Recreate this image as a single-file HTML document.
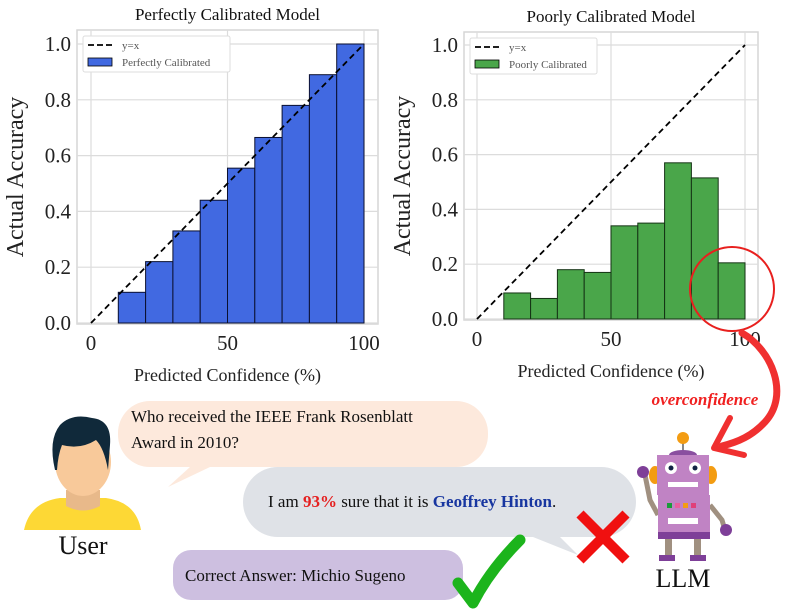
<!DOCTYPE html>
<html><head><meta charset="utf-8">
<style>
html,body{margin:0;padding:0;background:#fff;}
svg{display:block;font-family:"Liberation Serif",serif;}
svg text{font-family:"Liberation Serif",serif;}
</style></head>
<body>
<svg id="fig" width="800" height="611" viewBox="0 0 800 611" xmlns="http://www.w3.org/2000/svg" font-family="Liberation Serif, serif">
<g id="left"></g>
<g id="right"></g>

<circle cx="732" cy="289" r="42" fill="none" stroke="#e8201e" stroke-width="2"/>
<path d="M742,333 C772,350 790,395 765,422 C752,436 738,442 722,446" fill="none" stroke="#f03030" stroke-width="7" stroke-linecap="round"/>
<path d="M714,448 L730,418 M714,448 L744,455" fill="none" stroke="#f03030" stroke-width="6" stroke-linecap="round"/>
<text x="705" y="405" text-anchor="middle" font-size="17" font-style="italic" font-weight="bold" fill="#f02020">overconfidence</text>

<g>
<path d="M24,530 Q30,502 60,498 L106,498 Q136,502 141,530 Z" fill="#fdd835"/>
<path d="M66,490 L66,506 Q83,515 100,506 L100,490 Z" fill="#e8b98a"/>
<ellipse cx="83" cy="462" rx="28" ry="34" fill="#f8c99a"/>
<path d="M55,470 Q48,440 60,425 Q72,413 92,418 Q112,420 110,445 L108,470 Q104,448 96,440 Q80,450 62,445 Q58,455 57,470 Z" fill="#10293a"/>
</g>
<text x="83" y="554" text-anchor="middle" font-size="26" fill="#111">User</text>

<g>
<path d="M168,487 L190,467 L210,467 Z" fill="#fde9dc"/>
<rect x="118" y="401" width="370" height="66" rx="32" fill="#fde9dc"/>
<text x="131" y="422" font-size="17" fill="#111">Who received the IEEE Frank Rosenblatt</text>
<text x="131" y="448" font-size="17" fill="#111">Award in 2010?</text>
</g>
<g>
<path d="M578,555 L533,537 L560,537 Z" fill="#dfe2e7"/>
<rect x="243" y="467" width="393" height="70" rx="35" fill="#dfe2e7"/>
<text x="268" y="507" font-size="17" fill="#111">I am <tspan fill="#e52020" font-weight="bold">93%</tspan> sure that it is <tspan fill="#1836a0" font-weight="bold">Geoffrey Hinton</tspan>.</text>
</g>
<g>
<rect x="173" y="550" width="290" height="50" rx="18" fill="#cdbfe0"/>
<text x="185" y="581" font-size="17" fill="#111">Correct Answer: Michio Sugeno</text>
</g>
<g>
<path d="M580,514 L626,560 M626,514 L580,560" stroke="#f01010" stroke-width="10"/>
</g>
<path d="M458,583 L473,603 Q490,570 520,540" fill="none" stroke="#1cb41c" stroke-width="11" stroke-linecap="round" stroke-linejoin="round"/>

<g>
<line x1="683" y1="440" x2="683" y2="452" stroke="#888" stroke-width="2"/>
<circle cx="683" cy="438" r="6" fill="#f39c12"/>
<ellipse cx="683" cy="455" rx="14" ry="5" fill="#8a4fa0"/>
<ellipse cx="655" cy="475" rx="6" ry="9" fill="#f39c12"/>
<ellipse cx="711" cy="475" rx="6" ry="9" fill="#f39c12"/>
<rect x="657" y="455" width="52" height="40" fill="#c083c4"/>
<circle cx="671" cy="468" r="6" fill="#fff"/><circle cx="671" cy="468" r="2.5" fill="#124"/>
<circle cx="695" cy="468" r="6" fill="#fff"/><circle cx="695" cy="468" r="2.5" fill="#124"/>
<rect x="668" y="482" width="30" height="5" fill="#fff"/>
<path d="M645,475 L650,500 L658,515" stroke="#a09080" stroke-width="5" fill="none"/>
<circle cx="643" cy="472" r="6" fill="#7e3f98"/>
<path d="M710,505 L722,520 L725,530" stroke="#a09080" stroke-width="5" fill="none"/>
<circle cx="726" cy="530" r="6" fill="#7e3f98"/>
<rect x="658" y="495" width="52" height="43" fill="#c083c4"/>
<rect x="658" y="532" width="52" height="7" fill="#7e3f98"/>
<rect x="667" y="503" width="5" height="5" fill="#1a9b3a"/><rect x="675" y="503" width="5" height="5" fill="#e85fa0"/><rect x="683" y="503" width="5" height="5" fill="#f39c12"/><rect x="691" y="503" width="5" height="5" fill="#e0407a"/>
<rect x="668" y="518" width="30" height="6" fill="#fff"/>
<rect x="665" y="539" width="7" height="16" fill="#a09080"/><rect x="694" y="539" width="7" height="16" fill="#a09080"/>
<rect x="659" y="555" width="16" height="6" fill="#7e3f98"/><rect x="690" y="555" width="16" height="6" fill="#7e3f98"/>
</g>
<text x="683" y="587" text-anchor="middle" font-size="26" fill="#111">LLM</text>
</svg>
<script>
const NS="http://www.w3.org/2000/svg";
const binStarts=[10,20,30,40,50,60,70,80,90];
const perfectValues=[0.11,0.22,0.33,0.44,0.555,0.665,0.78,0.89,1.0];
const poorValues=[0.095,0.075,0.18,0.17,0.34,0.35,0.57,0.515,0.205];
const xTicks=[0,50,100];
const yTicks=[0.0,0.2,0.4,0.6,0.8,1.0];
function mk(p,tag,a){const e=document.createElementNS(NS,tag);for(const k in a)e.setAttribute(k,a[k]);p.appendChild(e);return e;}
function chart(g,cfg,vals){
  const sx=v=>cfg.x0+(cfg.x1-cfg.x0)*v/100, sy=v=>cfg.y0+(cfg.y1-cfg.y0)*v;
  const fr=mk(g,'rect',{x:cfg.bl,y:cfg.bt,width:cfg.br-cfg.bl,height:cfg.bb-cfg.bt,fill:'#fff',stroke:'#d6d6d6','stroke-width':1.5});
  
  
  xTicks.forEach(t=>{mk(g,'line',{x1:sx(t),x2:sx(t),y1:cfg.bt,y2:cfg.bb,stroke:'#dcdcdc','stroke-width':1.2});
    const l=mk(g,'text',{x:sx(t),y:cfg.bb+26,'text-anchor':'middle','font-size':21,fill:'#222'});l.textContent=t;
    
    });
  yTicks.forEach(t=>{mk(g,'line',{x1:cfg.bl,x2:cfg.br,y1:sy(t),y2:sy(t),stroke:'#dcdcdc','stroke-width':1.2});
    const l=mk(g,'text',{x:cfg.bl-6,y:sy(t)+7,'text-anchor':'end','font-size':21,fill:'#222'});l.textContent=t.toFixed(1);
    
    });
  vals.forEach((v,i)=>{const b=binStarts[i];
    const r=mk(g,'rect',{x:sx(b),y:sy(v),width:sx(b+10)-sx(b),height:sy(0)-sy(v),fill:cfg.color,stroke:cfg.edge,'stroke-width':1});
    
    });
  const d=mk(g,'line',{x1:sx(0),y1:sy(0),x2:sx(100),y2:sy(1),stroke:'#000','stroke-width':1.8,'stroke-dasharray':'6,4'});
  
  
  const lg=mk(g,'g',{});
  
  
  mk(lg,'rect',{x:cfg.bl+6,y:cfg.bt+6,width:cfg.lw,height:36,fill:'#fff',stroke:'#ddd',rx:2});
  mk(lg,'line',{x1:cfg.bl+11,x2:cfg.bl+35,y1:cfg.bt+15,y2:cfg.bt+15,stroke:'#000','stroke-width':1.8,'stroke-dasharray':'6,3'});
  let t=mk(lg,'text',{x:cfg.bl+45,y:cfg.bt+19,'font-size':11,fill:'#555'});t.textContent='y=x';
  mk(lg,'rect',{x:cfg.bl+11,y:cfg.bt+28,width:24,height:8,fill:cfg.color,stroke:'#000','stroke-width':0.8});
  t=mk(lg,'text',{x:cfg.bl+45,y:cfg.bt+36,'font-size':11,fill:'#555'});t.textContent=cfg.leg;
  const ti=mk(g,'text',{x:(cfg.bl+cfg.br)/2,y:cfg.bt-10,'text-anchor':'middle','font-size':17,fill:'#111'});ti.textContent=cfg.title;
  
  
  const xl=mk(g,'text',{x:(cfg.bl+cfg.br)/2,y:cfg.bb+57,'text-anchor':'middle','font-size':18,fill:'#222'});xl.textContent='Predicted Confidence (%)';
  
  
  const yx=cfg.bl-54, yy=(cfg.bt+cfg.bb)/2;
  const yl=mk(g,'text',{x:yx,y:yy,'text-anchor':'middle','font-size':24,fill:'#222',transform:`rotate(-90 ${yx} ${yy})`});yl.textContent='Actual Accuracy';
  
  
}
chart(document.getElementById('left'),{bl:77,br:378,bt:30,bb:324,x0:91,x1:364,y0:323,y1:44,color:'#4169e1',edge:'#0a1030',leg:'Perfectly Calibrated',lw:147,title:'Perfectly Calibrated Model'},perfectValues);
chart(document.getElementById('right'),{bl:464,br:758,bt:32,bb:320,x0:477,x1:745,y0:319,y1:45,color:'#4aa64a',edge:'#143314',leg:'Poorly Calibrated',lw:127,title:'Poorly Calibrated Model'},poorValues);
</script>
</body></html>
